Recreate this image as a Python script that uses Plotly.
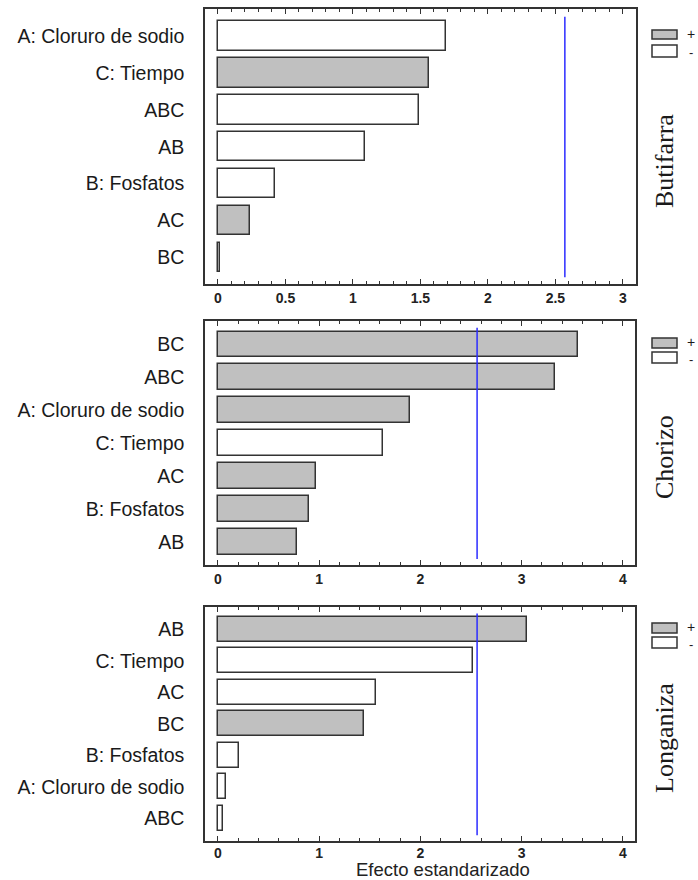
import plotly.graph_objects as go

# ---------------- data ----------------
butifarra_factors = ["A: Cloruro de sodio", "C: Tiempo", "ABC", "AB", "B: Fosfatos", "AC", "BC"]
butifarra_effects = [1.69, 1.56, 1.49, 1.09, 0.42, 0.24, 0.012]
butifarra_signs = ["-", "+", "-", "-", "-", "+", "-"]

chorizo_factors = ["BC", "ABC", "A: Cloruro de sodio", "C: Tiempo", "AC", "B: Fosfatos", "AB"]
chorizo_effects = [3.56, 3.33, 1.90, 1.63, 0.97, 0.90, 0.78]
chorizo_signs = ["+", "+", "+", "-", "+", "+", "+"]

longaniza_factors = ["AB", "C: Tiempo", "AC", "BC", "B: Fosfatos", "A: Cloruro de sodio", "ABC"]
longaniza_effects = [3.05, 2.52, 1.56, 1.44, 0.21, 0.08, 0.05]
longaniza_signs = ["+", "-", "-", "+", "-", "-", "-"]

product_names = ["Butifarra", "Chorizo", "Longaniza"]
critical_values = [2.57, 2.56, 2.56]
x_title = "Efecto estandarizado"

# ---------------- layout helpers ----------------
W, H = 698, 880
def px(x):
    return x / W
def py(y):
    return 1 - y / H

POS_COLOR = "#c0c0c0"
NEG_COLOR = "#ffffff"
EDGE = "#333333"
TEXT = "#1a1a1a"

# plot boxes in page pixels: (left, right, top, bottom)
boxes = [(205, 636, 9, 284), (205, 635, 321, 565), (205, 635, 607, 841)]
xranges = [[-0.096, 3.097], [-0.128, 4.12], [-0.128, 4.12]]
xdticks = [0.5, 1, 1]
xminor = [0.1, 0.2, 0.2]
xlabel_standoff = [0, 0, -2]
yranges = [[6.72, -0.73], [6.70, -0.71], [6.72, -0.71]]
bar_widths = [0.80, 0.78, 0.79]
legend_rows = [((30, 39), (45, 57)), ((338, 348), (352, 363)), ((623, 633), (637, 648))]
side_title_y = [161, 457, 738]

data = [
    (butifarra_factors, butifarra_effects, butifarra_signs),
    (chorizo_factors, chorizo_effects, chorizo_signs),
    (longaniza_factors, longaniza_effects, longaniza_signs),
]

fig = go.Figure()
shapes = []
annotations = []
layout_axes = {}

for i, (factors, effects, signs) in enumerate(data):
    n = "" if i == 0 else str(i + 1)
    xa, ya = "x" + n, "y" + n
    fig.add_trace(go.Bar(
        x=effects, y=factors, orientation="h",
        xaxis=xa, yaxis=ya,
        width=bar_widths[i],
        marker=dict(color=[POS_COLOR if s == "+" else NEG_COLOR for s in signs],
                    line=dict(color=EDGE, width=1.5)),
        showlegend=False, hoverinfo="x+y",
    ))
    l, r, t, b = boxes[i]
    layout_axes["xaxis" + n] = dict(
        domain=[px(l), px(r)], anchor=ya, range=xranges[i],
        dtick=xdticks[i], tick0=0,
        showline=True, linecolor=EDGE, linewidth=1.5, mirror="ticks",
        ticks="inside", ticklen=5, tickwidth=1, tickcolor=EDGE,
        minor=dict(dtick=xminor[i], tick0=0, ticks="inside", ticklen=3,
                   tickwidth=1, tickcolor=EDGE, showgrid=False),
        showgrid=False, zeroline=False,
        tickfont=dict(family="Liberation Sans Narrow, Arial Narrow, Liberation Sans, Arial",
                      size=14, weight="bold", color="#222222"),
        ticklabelstandoff=xlabel_standoff[i],
        fixedrange=True,
    )
    layout_axes["yaxis" + n] = dict(
        domain=[py(b), py(t)], anchor=xa, range=yranges[i],
        type="category", categoryorder="array", categoryarray=factors,
        showline=True, linecolor=EDGE, linewidth=1.5, mirror=True,
        ticks="", showgrid=False, zeroline=False,
        tickfont=dict(family="Liberation Sans, Arial", size=19.5, color=TEXT),
        ticklabelstandoff=15,
        fixedrange=True,
    )
    # critical value line
    shapes.append(dict(type="line", xref=xa, yref=ya + " domain",
                       x0=critical_values[i], x1=critical_values[i], y0=0.025, y1=0.972,
                       line=dict(color="#2b2bff", width=1.5)))
    # legend boxes
    (g0, g1), (w0, w1) = legend_rows[i]
    shapes.append(dict(type="rect", xref="paper", yref="paper",
                       x0=px(652), x1=px(677), y0=py(g1), y1=py(g0),
                       fillcolor=POS_COLOR, line=dict(color=EDGE, width=1.5)))
    shapes.append(dict(type="rect", xref="paper", yref="paper",
                       x0=px(652), x1=px(677), y0=py(w1), y1=py(w0),
                       fillcolor=NEG_COLOR, line=dict(color=EDGE, width=1.5)))
    annotations.append(dict(text="+", xref="paper", yref="paper", x=px(691), y=py((g0 + g1) / 2 - 1),
                            xanchor="center", yanchor="middle", showarrow=False, borderpad=0,
                            font=dict(family="Liberation Sans, Arial", size=14, color=TEXT)))
    annotations.append(dict(text="-", xref="paper", yref="paper", x=px(691), y=py((w0 + w1) / 2 + 2),
                            xanchor="center", yanchor="middle", showarrow=False, borderpad=0,
                            font=dict(family="Liberation Sans, Arial", size=13, color=TEXT)))
    # side title
    annotations.append(dict(text=product_names[i], xref="paper", yref="paper",
                            x=px(664), y=py(side_title_y[i]), textangle=-90,
                            xanchor="center", yanchor="middle", showarrow=False,
                            font=dict(family="Liberation Serif, Times New Roman", size=26, color=TEXT)))

annotations.append(dict(text=x_title, xref="paper", yref="paper", x=px(443), y=py(869.5),
                        xanchor="center", yanchor="middle", showarrow=False, borderpad=0,
                        font=dict(family="Liberation Sans, Arial", size=18.5, color="#222222")))

fig.update_layout(
    width=W, height=H,
    margin=dict(l=0, r=0, t=0, b=0),
    paper_bgcolor="white", plot_bgcolor="white",
    shapes=shapes, annotations=annotations,
    bargap=0,
    **layout_axes,
)

fig.write_html("out.html", config={"displayModeBar": False},
               post_script="document.body.style.margin='0';document.body.style.overflow='hidden';")
